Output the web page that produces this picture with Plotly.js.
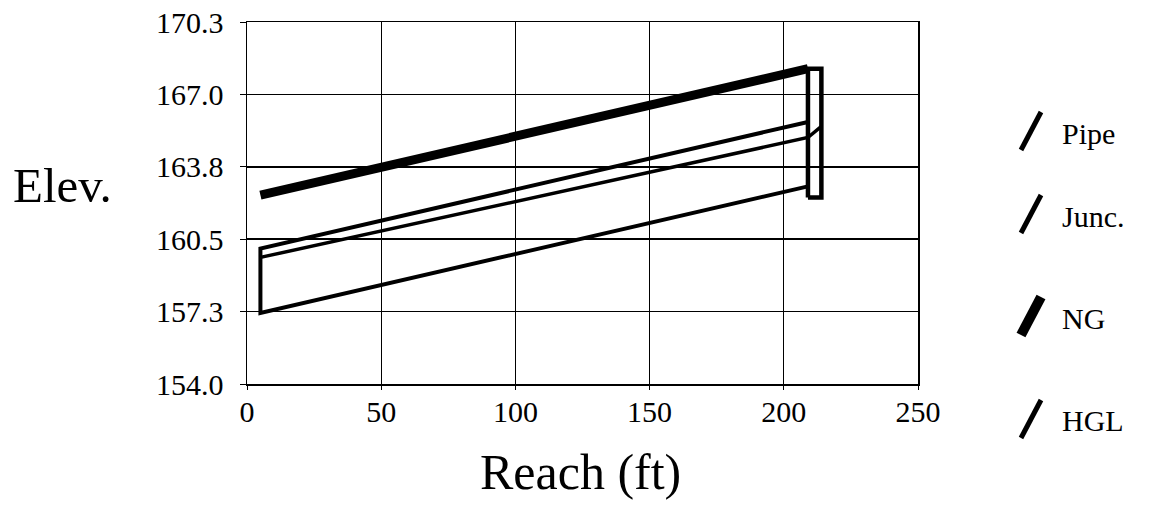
<!DOCTYPE html>
<html>
<head>
<meta charset="utf-8">
<script src="https://cdn.plot.ly/plotly-3.0.1.min.js"></script>
<style>html,body{margin:0;padding:0;background:#fff;}#chart{width:1152px;height:507px;}</style>
</head>
<body>
<div id="chart"></div>
<script>
// ---- data ----
var pipeX = [209, 5, 5, 209];
var pipeY = [165.8, 160.1, 157.2, 162.9];
var juncX = [209, 209, 214, 214, 209];
var juncY = [162.4, 168.2, 168.2, 162.4, 162.4];
var ngX = [5, 209];
var ngY = [162.5, 168.2];
var hglX = [5, 209, 214];
var hglY = [159.7, 165.1, 165.6];
var yTickVals = [154.0, 157.26, 160.52, 163.78, 167.04, 170.3];
var yTickText = ["154.0", "157.3", "160.5", "163.8", "167.0", "170.3"];
var xTickVals = [0, 50, 100, 150, 200, 250];
var seriesNames = ["Pipe", "Junc.", "NG", "HGL"];

// ---- layout helpers ----
var L = 247, R = 918, T = 22, B = 384;
function px(x) { return (x - L) / (R - L); }
function py(y) { return (B - y) / (B - T); }
var FONT = "Tinos, 'Nimbus Roman', 'Nimbus Roman No9 L', FreeSerif, 'Liberation Serif', 'DejaVu Serif'";

var lineW = {"Pipe": 4, "Junc.": 4.5, "NG": 9, "HGL": 3.5};
var traces = [
  {x: pipeX, y: pipeY, name: seriesNames[0]},
  {x: juncX, y: juncY, name: seriesNames[1]},
  {x: ngX, y: ngY, name: seriesNames[2]},
  {x: hglX, y: hglY, name: seriesNames[3]}
].map(function (t) {
  return {x: t.x, y: t.y, name: t.name, type: "scatter", mode: "lines",
    line: {color: "#000", width: lineW[t.name], shape: "linear"},
    showlegend: false, hoverinfo: "skip"};
});

var legendRows = [131, 214, 316, 419];
var shapes = [], annotations = [];
seriesNames.forEach(function (n, i) {
  var cy = legendRows[i];
  var w = n === "NG" ? 10 : 5;
  shapes.push({type: "line", xref: "paper", yref: "paper",
    x0: px(1021), y0: py(cy + 19), x1: px(1041), y1: py(cy - 19),
    line: {color: "#000", width: w}});
  annotations.push({xref: "paper", yref: "paper", x: px(1060), y: py(cy + 2),
    xanchor: "left", yanchor: "middle", text: n, showarrow: false,
    font: {family: FONT, size: 30, color: "#000"}});
});
annotations.push({xref: "paper", yref: "paper", x: px(62), y: py(186),
  xanchor: "center", yanchor: "middle", text: "Elev.", showarrow: false,
  font: {family: FONT, size: 49, color: "#000"}});
annotations.push({xref: "paper", yref: "paper", x: px(580), y: py(472),
  xanchor: "center", yanchor: "middle", text: "Reach (ft)", showarrow: false,
  font: {family: FONT, size: 50, color: "#000"}});

var layout = {
  width: 1152, height: 507,
  margin: {l: L, r: 1152 - R, t: T, b: 507 - B, pad: 0},
  paper_bgcolor: "#fff", plot_bgcolor: "#fff",
  showlegend: false,
  font: {family: FONT, color: "#000", size: 30},
  xaxis: {range: [0, 250], tickvals: xTickVals, ticktext: xTickVals.map(String),
    showgrid: true, gridcolor: "#000", gridwidth: 1,
    showline: true, linecolor: "#000", linewidth: 1.5, mirror: true,
    ticks: "outside", ticklen: 4, tickcolor: "#000", ticklabelstandoff: -4,
    zeroline: false, tickfont: {family: FONT, size: 30, color: "#000"}},
  yaxis: {range: [154.0, 170.3], tickvals: yTickVals, ticktext: yTickText,
    showgrid: true, gridcolor: "#000", gridwidth: 1.6,
    showline: true, linecolor: "#000", linewidth: 1.5, mirror: true,
    ticks: "outside", ticklen: 6, tickcolor: "#000", ticklabelstandoff: 10,
    zeroline: false, tickfont: {family: FONT, size: 30, color: "#000"}},
  shapes: shapes,
  annotations: annotations
};

Plotly.newPlot("chart", traces, layout, {displayModeBar: false, staticPlot: true});
</script>
</body>
</html>
